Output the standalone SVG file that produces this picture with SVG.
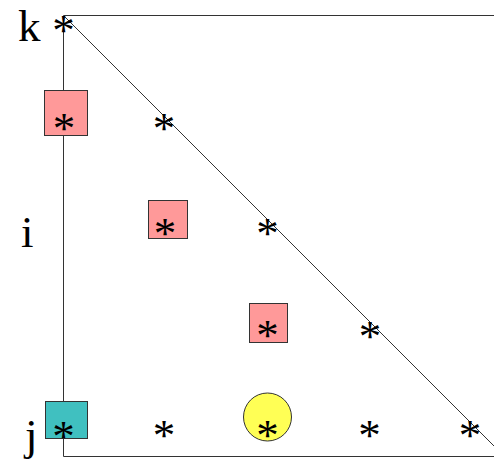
<svg xmlns="http://www.w3.org/2000/svg" width="494" height="462" viewBox="0 0 494 462">
<style>
.t{font-family:"Liberation Serif","Times New Roman",serif;font-size:45px;fill:#000}
.s{font-family:"Liberation Serif","Times New Roman",serif;font-size:45px;fill:#000;text-anchor:middle}
.ln{stroke:#333;stroke-width:1;fill:none}
.red{fill:#ff9999;stroke:#333;stroke-width:1}
</style>
<rect width="494" height="462" fill="#fff"/>
<g id="connectors">
<path class="ln" d="M494 15.5H63.5V456.5H494"/>
<path class="ln" d="M64 16L494 446"/>
</g>
<g id="node-sq1"><rect class="red" x="44.5" y="90.5" width="43" height="45"/></g>
<g id="node-sq2"><rect class="red" x="148.5" y="200.5" width="39" height="38"/></g>
<g id="node-sq3"><rect class="red" x="249.5" y="303.5" width="38" height="39"/></g>
<g id="node-teal"><rect x="45.5" y="401.5" width="42" height="37" fill="#40c0c0" stroke="#333" stroke-width="1"/></g>
<g id="node-circle"><circle cx="267.5" cy="417" r="24" fill="#ffff55" stroke="#333" stroke-width="1"/></g>
<g id="labels">
<text class="t" x="18" y="41">k</text>
<text class="t" x="21" y="247">i</text>
<text class="t" x="25" y="450">j</text>
</g>
<g id="stars">
<text class="s" x="63.5" y="45">*</text>
<text class="s" x="64" y="143">*</text>
<text class="s" x="164" y="143">*</text>
<text class="s" x="165" y="248">*</text>
<text class="s" x="267.5" y="248">*</text>
<text class="s" x="267.5" y="350">*</text>
<text class="s" x="370" y="351">*</text>
<text class="s" x="63.5" y="451">*</text>
<text class="s" x="164" y="450">*</text>
<text class="s" x="267.5" y="450">*</text>
<text class="s" x="369.5" y="450">*</text>
<text class="s" x="470" y="450">*</text>
</g>
</svg>
